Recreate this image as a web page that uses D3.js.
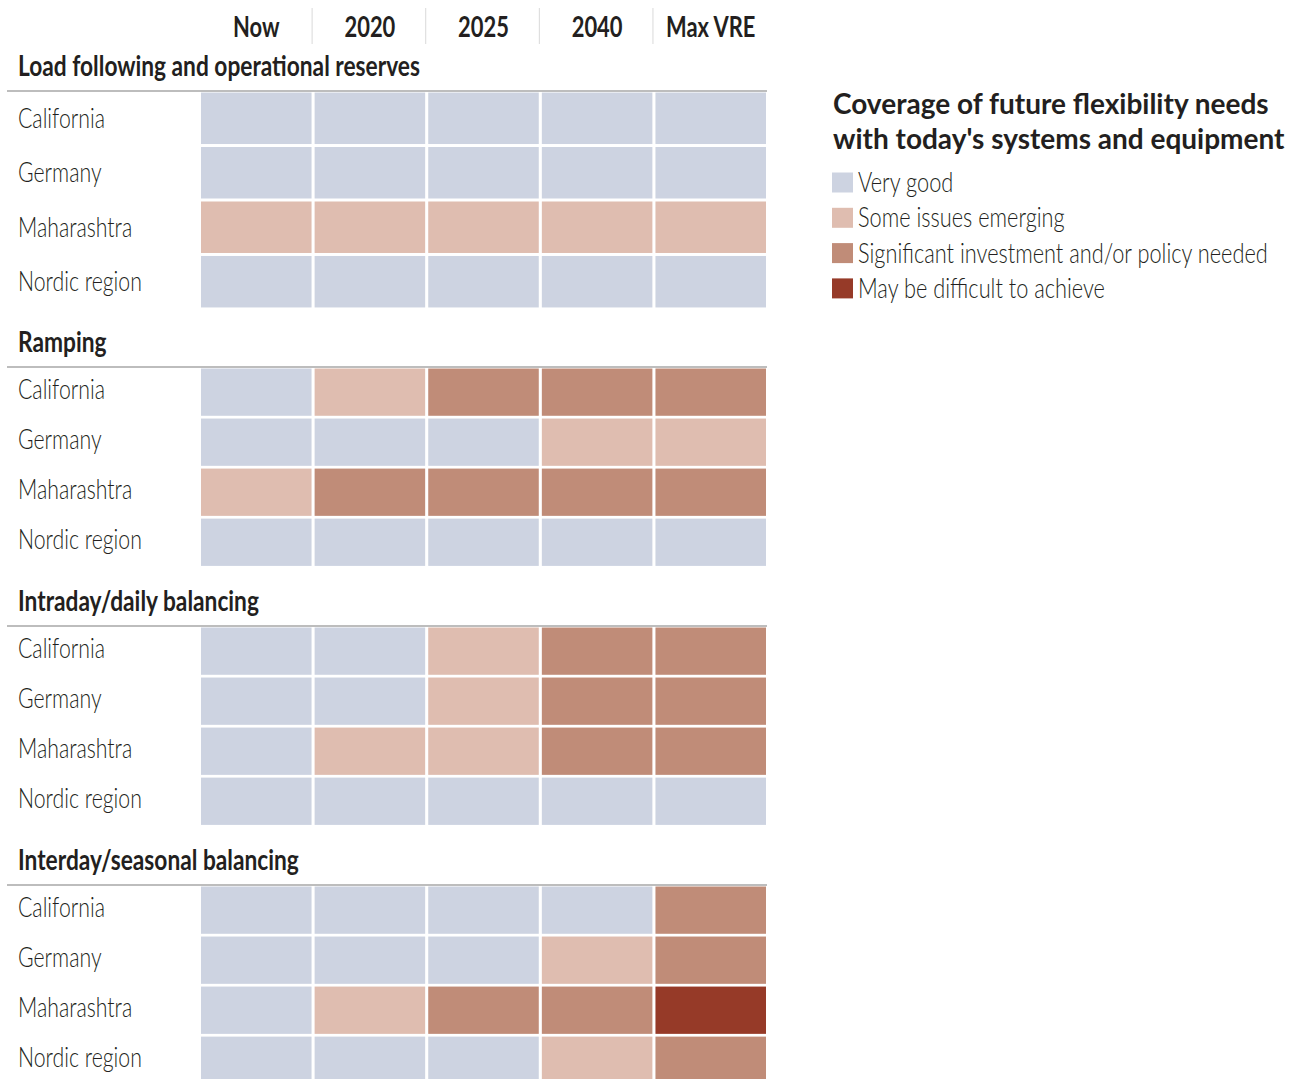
<!DOCTYPE html>
<html>
<head>
<meta charset="utf-8">
<script src="https://cdn.jsdelivr.net/npm/d3@7"></script>
<style>
  body { margin: 0; background: #fff; }
  svg text { fill: #231f20; }
</style>
</head>
<body>
<div id="chart-area"></div>
<script>
// DATA
// =================
var columns = ['Now', '2020', '2025', '2040', 'Max VRE'];
var regions = ['California', 'Germany', 'Maharashtra', 'Nordic region'];
var sections = ['Load following and operational reserves', 'Ramping', 'Intraday/daily balancing', 'Interday/seasonal balancing'];
var levels = ['Very good', 'Some issues emerging', 'Significant investment and/or policy needed', 'May be difficult to achieve'];

// level index per region, per column
var loadFollowing = [[0, 0, 0, 0, 0], [0, 0, 0, 0, 0], [1, 1, 1, 1, 1], [0, 0, 0, 0, 0]];
var ramping       = [[0, 1, 2, 2, 2], [0, 0, 0, 1, 1], [1, 2, 2, 2, 2], [0, 0, 0, 0, 0]];
var intraday      = [[0, 0, 1, 2, 2], [0, 0, 1, 2, 2], [0, 1, 1, 2, 2], [0, 0, 0, 0, 0]];
var interday      = [[0, 0, 0, 0, 2], [0, 0, 0, 1, 2], [0, 1, 2, 2, 3], [0, 0, 0, 1, 2]];
var sectionData = [loadFollowing, ramping, intraday, interday];

var colors = ['#cdd3e1', '#dfbdb0', '#c08c78', '#963a28'];

// CANVAS
// =================
var width = 1295, height = 1079;
var svg = d3.select('#chart-area')
    .append('svg')
        .attr('width', width)
        .attr('height', height);

var font = 'Lato, sans-serif';

// no condensed font installed: squeeze Lato horizontally instead
function measure(str, weight, size) {
    var t = svg.append('text')
        .attr('font-family', font)
        .attr('font-weight', weight)
        .attr('font-size', size)
        .text(str);
    var w = t.node().getComputedTextLength();
    t.remove();
    return w;
}
var lightF = 87 / measure('California', 300, '28px');
var legendF = 410 / measure('Significant investment and/or policy needed', 300, '28px');
var boldF = 402 / measure('Load following and operational reserves', 'bold', '29px');

function squeezed(sel, f, x, y) {
    return sel.attr('transform', 'translate(' + x + ',' + y + ') scale(' + f + ',1)');
}

var x = d3.scaleBand()
    .domain(columns)
    .range([200, 765])
    .paddingInner(0.027);

var color = d3.scaleOrdinal()
    .domain(d3.range(levels.length))
    .range(colors);

// column headers
var head = svg.append('g');
head.selectAll('text')
    .data(columns)
    .enter()
    .append('text')
        .attr('transform', d => 'translate(' + (x(d) + x.bandwidth() / 2 + 1) + ',37) scale(' + boldF + ',1)')
        .attr('text-anchor', 'middle')
        .attr('font-family', font)
        .attr('font-weight', 'bold')
        .attr('font-size', '28px')
        .text(d => d);

head.selectAll('line')
    .data(columns.slice(1))
    .enter()
    .append('line')
        .attr('x1', d => x(d) - 1.5)
        .attr('x2', d => x(d) - 1.5)
        .attr('y1', 8)
        .attr('y2', 44)
        .attr('stroke', '#d9d9d9')
        .attr('stroke-width', 1);

// SECTIONS
// =================
var sectionTop = [91, 367, 626, 885];
var rowStep = [54, 49.6, 49.6, 49.6];
var labelShift = [10.5, 8, 8, 8];

sections.forEach((name, si) => {
    var top = sectionTop[si];
    var y = d3.scaleBand()
        .domain(regions)
        .range([top, top + rowStep[si] * 4])
        .paddingInner(0.055)
        .paddingOuter(0.01);

    var g = svg.append('g').attr('class', 'section');

    squeezed(g.append('text'), boldF, 18, top - 15.5)
        .attr('font-family', font)
        .attr('font-weight', 'bold')
        .attr('font-size', '29px')
        .text(name);

    regions.forEach((r, ri) => {
        g.selectAll('rect.r' + ri)
            .data(sectionData[si][ri])
            .enter()
            .append('rect')
                .attr('class', 'r' + ri)
                .attr('x', (d, ci) => x(columns[ci]) + 1)
                .attr('y', y(r) + 1)
                .attr('width', x.bandwidth())
                .attr('height', y.bandwidth())
                .attr('fill', d => color(d));

        squeezed(g.append('text'), lightF, 18, y(r) + y.bandwidth() / 2 + labelShift[si])
            .attr('font-family', font)
            .attr('font-weight', 300)
            .attr('font-size', '28px')
            .text(r);
    });

    g.append('line')
        .attr('x1', 7)
        .attr('x2', 767)
        .attr('y1', top)
        .attr('y2', top)
        .attr('stroke', '#bdbdbd')
        .attr('stroke-width', 2);
});

// LEGEND
// =================
var legend = svg.append('g').attr('transform', 'translate(832, 0)');

legend.selectAll('text.title')
    .data(['Coverage of future flexibility needs', "with today's systems and equipment"])
    .enter()
    .append('text')
        .attr('class', 'title')
        .attr('x', 1)
        .attr('y', (d, i) => 114 + i * 35)
        .attr('font-family', font)
        .attr('font-weight', 'bold')
        .attr('font-size', '28px')
        .text(d => d);

var items = legend.selectAll('g.item')
    .data(levels)
    .enter()
    .append('g')
        .attr('class', 'item')
        .attr('transform', (d, i) => 'translate(0,' + (172.5 + i * 35.3) + ')');

items.append('rect')
    .attr('width', 21)
    .attr('height', 20)
    .attr('fill', (d, i) => color(i));

squeezed(items.append('text'), legendF, 26, 19.5)
    .attr('font-family', font)
    .attr('font-weight', 300)
    .attr('font-size', '28px')
    .text(d => d);
</script>
</body>
</html>
